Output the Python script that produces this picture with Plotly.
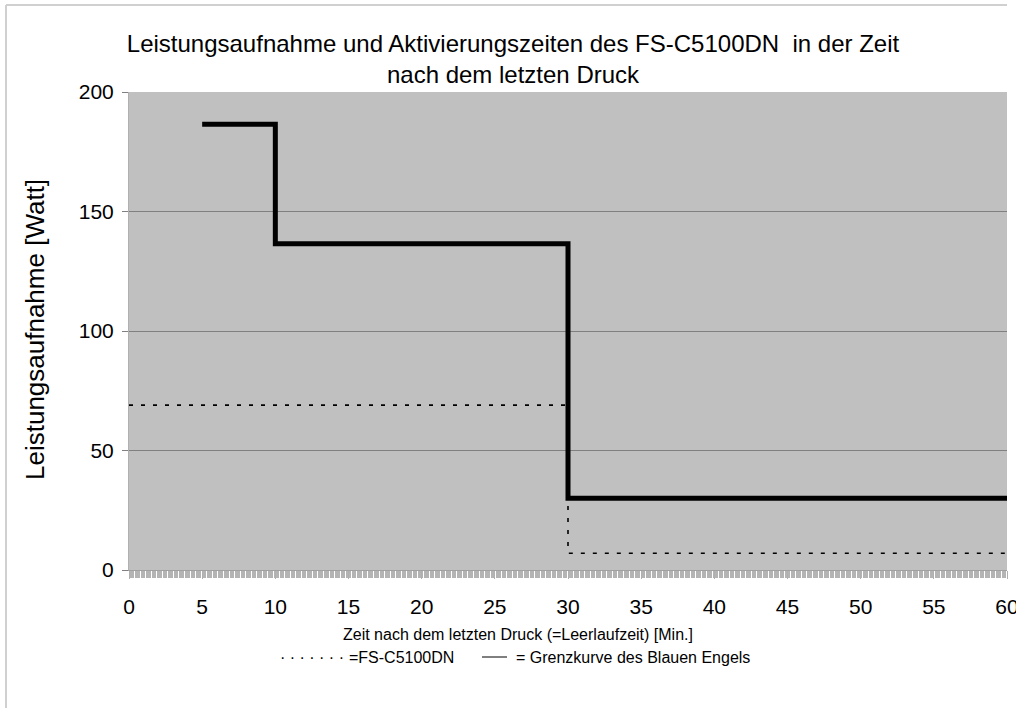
import plotly.graph_objects as go

# Data
grenz_x = [5, 10, 30, 60]
grenz_y = [186.5, 136.5, 30, 30]
fs_x = [0, 30, 60]
fs_y = [69, 7, 7]

x_ticks = list(range(0, 61, 5))
y_ticks = [0, 50, 100, 150, 200]

title_text = "Leistungsaufnahme und Aktivierungszeiten des FS-C5100DN  in der Zeit<br>nach dem letzten Druck"
x_title = "Zeit nach dem letzten Druck (=Leerlaufzeit) [Min.]"
y_title = "Leistungsaufnahme [Watt]"
legend_fs = "=FS-C5100DN"
legend_grenz = "= Grenzkurve des Blauen Engels"

FONT = "Liberation Sans, Arial, sans-serif"

L, R, T, B = 129, 9, 92, 138
PW = 1016 - L - R
PH = 708 - T - B


def px(x):
    return (x - L) / PW


def py(y):
    return (708 - B - y) / PH


fig = go.Figure()
fig.add_trace(go.Scatter(
    x=fs_x, y=fs_y, mode="lines", line_shape="hv",
    line=dict(color="black", width=1.6, dash="4px,8px"),
    showlegend=False, hoverinfo="skip"))
fig.add_trace(go.Scatter(
    x=grenz_x, y=grenz_y, mode="lines", line_shape="hv",
    line=dict(color="black", width=5),
    showlegend=False, hoverinfo="skip"))

fig.update_layout(
    width=1016, height=708, autosize=False,
    margin=dict(l=L, r=R, t=T, b=B, autoexpand=False),
    paper_bgcolor="white",
    plot_bgcolor="#c0c0c0",
    font=dict(family=FONT, color="black", size=20),
    title=dict(text=title_text, x=513 / 1016, xref="container", xanchor="center",
               y=1 - 52 / 708, yref="container", yanchor="middle",
               font=dict(size=24, family=FONT)),
    xaxis=dict(range=[0, 60], tickvals=x_ticks, ticks="outside", ticklen=8,
               automargin=False,
               tickcolor="#b0b0b0", showgrid=False, zeroline=False,
               showline=True, linecolor="#a0a0a0", linewidth=1,
               ticklabelstandoff=10, ticklabeloverflow="allow",
               minor=dict(dtick=1/12, ticks="outside", ticklen=7,
                          tickcolor="#b4b4b4", tickwidth=1, showgrid=False),
               tickfont=dict(size=21)),
    yaxis=dict(range=[0, 200], tickvals=y_ticks, ticks="outside", ticklen=6,
               automargin=False,
               tickcolor="#808080", showgrid=True, gridcolor="#808080",
               gridwidth=1, zeroline=False, showline=True,
               linecolor="#b0b0b0", linewidth=1,
               ticklabelstandoff=4, ticklabeloverflow="allow",
               tickfont=dict(size=21)),
    showlegend=False,
)

# y axis title
fig.add_annotation(text=y_title, xref="paper", yref="paper",
                   x=px(35), y=py(330), textangle=-90,
                   xanchor="center", yanchor="middle", showarrow=False,
                   font=dict(size=26, family=FONT))
# x axis title
fig.add_annotation(text=x_title, xref="paper", yref="paper",
                   x=px(518), y=py(634),
                   xanchor="center", yanchor="middle", showarrow=False,
                   font=dict(size=16, family=FONT))
# legend texts
fig.add_annotation(text="· · · · · · ·", xref="paper", yref="paper",
                   x=px(278), y=py(657),
                   xanchor="left", yanchor="middle", showarrow=False,
                   font=dict(size=16, family=FONT))
fig.add_annotation(text=legend_fs, xref="paper", yref="paper",
                   x=px(347), y=py(657),
                   xanchor="left", yanchor="middle", showarrow=False,
                   font=dict(size=16, family=FONT))
fig.add_shape(type="line", xref="paper", yref="paper",
              x0=px(482), x1=px(507), y0=py(657), y1=py(657),
              line=dict(color="black", width=1))
fig.add_annotation(text=legend_grenz, xref="paper", yref="paper",
                   x=px(514), y=py(657),
                   xanchor="left", yanchor="middle", showarrow=False,
                   font=dict(size=16, family=FONT))

# chart frame (partially visible)
fig.add_shape(type="line", xref="paper", yref="paper",
              x0=px(6), x1=px(1007), y0=py(5), y1=py(5),
              line=dict(color="#d0d0d0", width=2))
fig.add_shape(type="line", xref="paper", yref="paper",
              x0=px(6), x1=px(6), y0=py(5), y1=py(712),
              line=dict(color="#d0d0d0", width=2))

post = (
    "document.documentElement.style.overflow='hidden';"
    "document.body.style.margin='0';"
    "document.body.style.overflow='hidden';"
)

fig.write_html("out.html", config={"displayModeBar": False},
               post_script=post)
